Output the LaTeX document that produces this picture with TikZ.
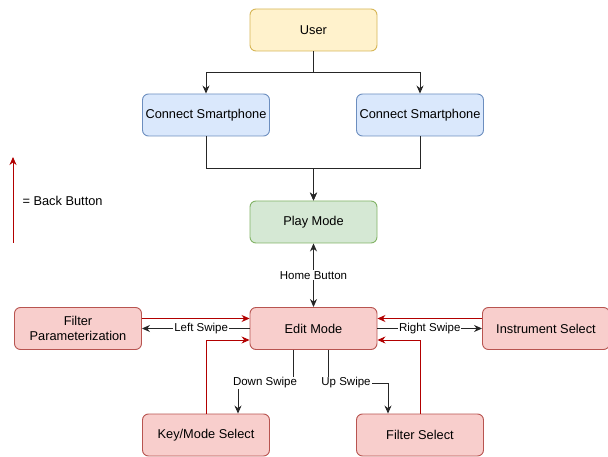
\documentclass[tikz,border=0pt]{standalone}
\usepackage{fontspec}
\setmainfont{Liberation Sans}
\usetikzlibrary{arrows.meta}
\definecolor{yfill}{HTML}{FFF2CC}\definecolor{ydraw}{HTML}{D6B656}
\definecolor{bfill}{HTML}{DAE8FC}\definecolor{bdraw}{HTML}{6C8EBF}
\definecolor{gfill}{HTML}{D5E8D4}\definecolor{gdraw}{HTML}{82B366}
\definecolor{rfill}{HTML}{F8CECC}\definecolor{rdraw}{HTML}{B85450}
\definecolor{back}{HTML}{B20000}
\begin{document}
\begin{tikzpicture}[x=1pt,y=-1pt,
  box/.style={rounded corners=6pt,minimum width=127pt,minimum height=42pt,inner sep=1pt,align=center,font=\fontsize{12.8}{15}\selectfont,line width=0.9pt},
  ybox/.style={box,fill=yfill,draw=ydraw},
  bbox/.style={box,fill=bfill,draw=bdraw},
  gbox/.style={box,fill=gfill,draw=gdraw},
  rbox/.style={box,fill=rfill,draw=rdraw},
  conn/.style={draw=black!85,line width=0.9pt,-{Stealth[length=8pt,width=7pt]}},
  backarr/.style={draw=back,line width=0.9pt,-{Stealth[length=8pt,width=7pt]}},
  lbl/.style={fill=white,inner sep=1pt,font=\fontsize{11.5}{13}\selectfont}]
\useasboundingbox (0,0) rectangle (608,457);
\node[ybox] (user) at (313.5,30) {User};
\node[bbox] (cl) at (206,115) {Connect Smartphone};
\node[bbox] (cr) at (420,115) {Connect Smartphone};
\node[gbox] (play) at (313.5,222) {Play Mode};
\node[rbox] (edit) at (313.5,328.5) {Edit Mode};
\node[rbox] (fp) at (78,328.5) {Filter\\Parameterization};
\node[rbox] (inst) at (546,328.5) {Instrument Select};
\node[rbox] (key) at (206,435) {Key/Mode Select};
\node[rbox] (fs) at (420,435) {Filter Select};
% top connectors
\draw[conn] (user.south) -- ++(0,21) -| (cl.north);
\draw[conn] (user.south) -- ++(0,21) -| (cr.north);
\draw[conn] (cl.south) -- ++(0,32) -| (play.north);
\draw[conn] (cr.south) -- ++(0,32) -| (play.north);
% home button
\draw[conn,{Stealth[length=8pt,width=7pt]}-{Stealth[length=8pt,width=7pt]}] (play.south) -- node[lbl,pos=0.5]{Home Button} (edit.north);
% left / right swipe
\draw[conn] (edit.west) -- node[lbl,pos=0.45]{Left Swipe} (fp.east);
\draw[conn] (edit.east) -- node[lbl,pos=0.5]{Right Swipe} (inst.east -| inst.west);
% down / up swipe
\coordinate (ds) at ([xshift=-20.5pt]edit.south);
\coordinate (us) at ([xshift=14.5pt]edit.south);
\draw[conn] (ds) |- (238,383) -- (238,383 |- key.north);
\node[lbl] (dsl) at (265,383) {Down Swipe};
\draw[conn] (us) |- (388,383) -- (388,383 |- fs.north);
\node[lbl] (usl) at (346,383) {Up Swipe};
% back arrows
\draw[backarr] ([yshift=10pt]fp.east) -- ([yshift=10pt]edit.west);
\draw[backarr] ([yshift=10pt]inst.west) -- ([yshift=10pt]edit.east);
\draw[backarr] (key.north) |- ([yshift=-11.5pt]edit.west);
\draw[backarr] (fs.north) |- ([yshift=-11.5pt]edit.east);
% legend
\coordinate (lb) at (13,243);
\coordinate (lt) at (13,157);
\draw[backarr] (lb) -- (lt);
\node[anchor=west,font=\fontsize{12.8}{15}\selectfont] (leg) at (19,201) {= Back Button};
\end{tikzpicture}
\end{document}
